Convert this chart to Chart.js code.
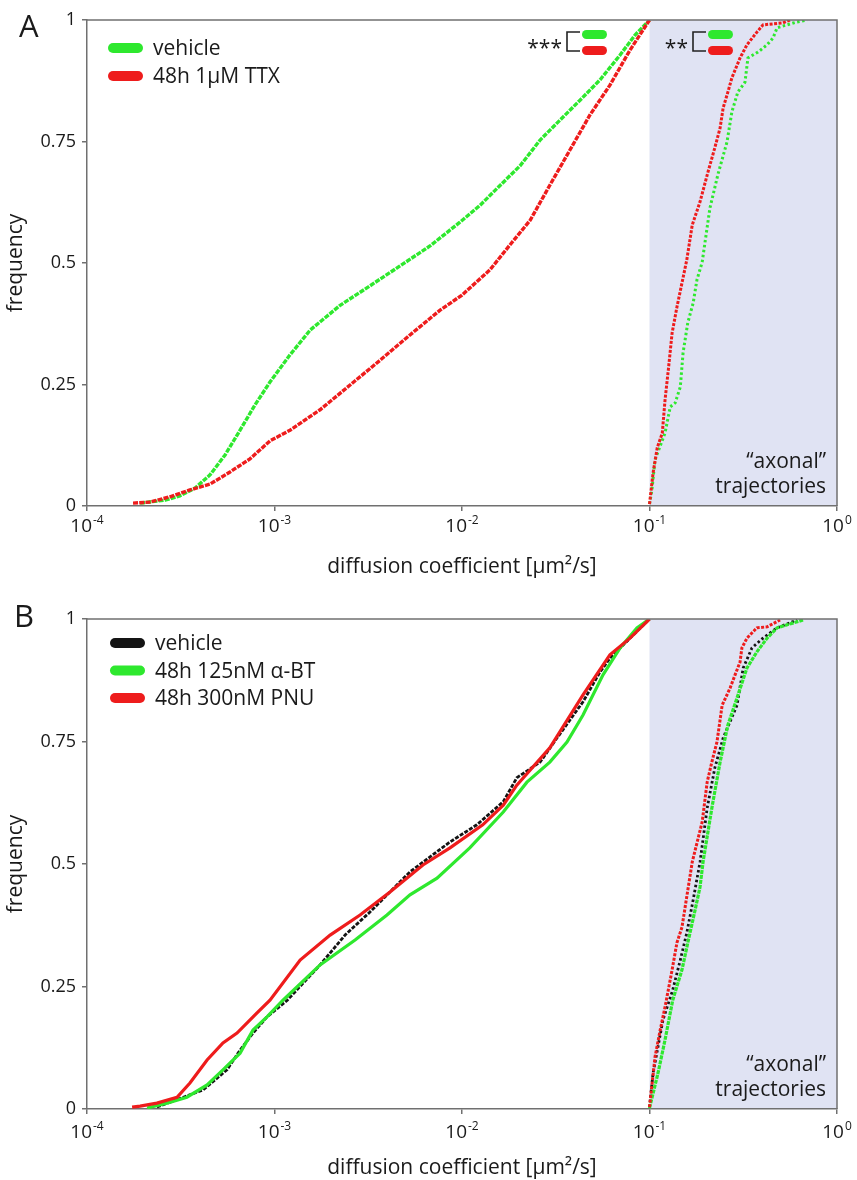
<!DOCTYPE html>
<html><head><meta charset="utf-8">
<script src="https://cdn.jsdelivr.net/npm/chart.js@4/dist/chart.umd.min.js"></script>
<style>
html,body{margin:0;padding:0;background:#fff}
body{width:857px;height:1180px;position:relative;overflow:hidden}
canvas{position:absolute;left:0}
#ca{top:0;width:857px;height:600px}
#cb{top:600px;width:857px;height:580px}
</style></head><body>
<canvas id="ca" width="857" height="600"></canvas>
<canvas id="cb" width="857" height="580"></canvas>
<script>
// ---------- axes / labels ----------
const xTickValues = [1e-4, 1e-3, 1e-2, 1e-1, 1];
const xTickExponents = ['-4', '-3', '-2', '-1', '0'];
const yTickValues = [0, 0.25, 0.5, 0.75, 1];
const yTickLabels = ['0', '0.25', '0.5', '0.75', '1'];
const axonalRange = [0.1, 1];
const xTitle = 'diffusion coefficient [μm²/s]';
const yTitle = 'frequency';
const legendA = ['vehicle', '48h 1μM TTX'];
const legendB = ['vehicle', '48h 125nM α-BT', '48h 300nM PNU'];

// ---------- panel A data (cumulative frequency vs diffusion coefficient) ----------
const A_vehSomaX = [1.92e-4,2.61e-4,3.13e-4,3.77e-4,4.53e-4,5.45e-4,6.55e-4,7.87e-4,9.46e-4,1.21e-3,1.55e-3,2.24e-3,3.23e-3,4.67e-3,6.75e-3,9.75e-3,1.25e-2,1.60e-2,2.04e-2,2.61e-2,3.33e-2,4.26e-2,5.45e-2,6.97e-2,8.37e-2,0.1];
const A_vehSomaY = [0.006,0.012,0.021,0.037,0.064,0.105,0.156,0.208,0.255,0.311,0.362,0.413,0.453,0.494,0.535,0.584,0.619,0.660,0.700,0.753,0.794,0.835,0.877,0.928,0.969,1.0];
const A_ttxSomaX = [1.76e-4,2.17e-4,2.77e-4,3.54e-4,4.53e-4,5.79e-4,7.40e-4,9.46e-4,1.21e-3,1.75e-3,2.53e-3,3.66e-3,5.28e-3,7.64e-3,1.0e-2,1.41e-2,1.80e-2,2.31e-2,2.94e-2,3.77e-2,4.82e-2,6.15e-2,7.87e-2,0.1];
const A_ttxSomaY = [0.006,0.008,0.019,0.033,0.045,0.070,0.097,0.134,0.156,0.198,0.249,0.300,0.352,0.403,0.434,0.486,0.537,0.588,0.660,0.733,0.805,0.866,0.938,1.0];
const A_vehAxonX = [0.1,0.103,0.107,0.121,0.129,0.137,0.146,0.151,0.160,0.171,0.179,0.191,0.210,0.232,0.259,0.275,0.296,0.323,0.335,0.379,0.424,0.456,0.479,0.612,0.692];
const A_vehAxonY = [0.004,0.033,0.095,0.150,0.204,0.212,0.245,0.315,0.377,0.418,0.465,0.502,0.613,0.683,0.749,0.811,0.852,0.872,0.922,0.934,0.949,0.963,0.984,0.996,1.0];
const A_ttxAxonX = [0.1,0.1045,0.110,0.117,0.121,0.126,0.132,0.140,0.158,0.169,0.186,0.205,0.223,0.238,0.247,0.262,0.275,0.304,0.331,0.374,0.403,0.515,0.561];
const A_ttxAxonY = [0.004,0.068,0.120,0.150,0.218,0.280,0.356,0.409,0.506,0.578,0.626,0.687,0.737,0.778,0.819,0.852,0.881,0.922,0.949,0.975,0.990,0.994,1.0];

// ---------- panel B data ----------
const B_vehSomaX = [2.36e-4,4.16e-4,5.58e-4,6.55e-4,7.68e-4,9.12e-4,1.17e-3,1.75e-3,2.38e-3,3.23e-3,5.28e-3,8.63e-3,1.20e-2,1.66e-2,1.96e-2,2.61e-2,3.21e-2,4.42e-2,5.45e-2,6.15e-2,8.17e-2,0.1];
const B_vehSomaY = [0.004,0.039,0.080,0.120,0.155,0.188,0.222,0.294,0.355,0.402,0.484,0.545,0.580,0.627,0.676,0.708,0.757,0.831,0.892,0.920,0.967,1.0];
const B_btSomaX = [2.09e-4,2.67e-4,3.41e-4,4.37e-4,5.31e-4,6.55e-4,7.68e-4,9.12e-4,1.11e-3,1.75e-3,2.69e-3,3.98e-3,5.28e-3,7.36e-3,1.10e-2,1.66e-2,2.22e-2,2.94e-2,3.63e-2,4.42e-2,5.65e-2,6.97e-2,8.57e-2,0.1];
const B_btSomaY = [0.002,0.012,0.024,0.049,0.080,0.114,0.161,0.188,0.222,0.294,0.345,0.396,0.437,0.471,0.533,0.606,0.667,0.708,0.749,0.804,0.886,0.941,0.982,1.0];
const B_pnuSomaX = [1.74e-4,1.92e-4,2.36e-4,3.02e-4,3.54e-4,4.37e-4,5.31e-4,6.31e-4,8.07e-4,9.46e-4,1.37e-3,1.98e-3,2.86e-3,4.13e-3,6.19e-3,8.63e-3,1.29e-2,1.66e-2,1.96e-2,2.94e-2,4.42e-2,6.15e-2,7.87e-2,0.1];
const B_pnuSomaY = [0.004,0.006,0.012,0.024,0.053,0.100,0.135,0.155,0.196,0.222,0.304,0.355,0.396,0.443,0.498,0.533,0.580,0.620,0.661,0.737,0.845,0.927,0.961,1.0];
const B_vehAxonX = [0.1,0.1045,0.118,0.133,0.146,0.158,0.171,0.186,0.203,0.223,0.247,0.293,0.316,0.352,0.403,0.479,0.612];
const B_vehAxonY = [0.004,0.073,0.182,0.243,0.304,0.359,0.427,0.504,0.614,0.696,0.757,0.824,0.900,0.941,0.961,0.982,0.998];
const B_btAxonX = [0.1,0.111,0.121,0.133,0.149,0.160,0.175,0.186,0.193,0.215,0.238,0.262,0.293,0.331,0.374,0.424,0.479,0.659];
const B_btAxonY = [0.002,0.073,0.141,0.222,0.284,0.339,0.406,0.453,0.504,0.614,0.708,0.784,0.839,0.900,0.933,0.961,0.982,0.998];
const B_pnuAxonX = [0.1,0.107,0.114,0.121,0.132,0.140,0.149,0.158,0.169,0.191,0.203,0.215,0.229,0.244,0.269,0.286,0.304,0.311,0.331,0.374,0.424,0.497];
const B_pnuAxonY = [0.004,0.106,0.161,0.208,0.284,0.339,0.371,0.433,0.504,0.586,0.667,0.708,0.749,0.824,0.859,0.886,0.912,0.941,0.961,0.982,0.984,0.998];

// ---------- styling ----------
const FONT = '"Open Sans", "Noto Sans", "DejaVu Sans", sans-serif';
const AXC = '#707070';
const TXT = '#1a1a1a';
const GREEN = '#2ee82e', RED = '#ee1c1c', BLACK = '#141414';
const SHADE = '#e0e3f3';

function xy(xs, ys) { return xs.map((x, i) => ({ x: x, y: ys[i] })); }

function rrect(ctx, x, y, w, h, r) {
  ctx.beginPath();
  ctx.moveTo(x + r, y);
  ctx.lineTo(x + w - r, y);
  ctx.arc(x + w - r, y + r, r, -Math.PI / 2, Math.PI / 2);
  ctx.lineTo(x + r, y + h);
  ctx.arc(x + r, y + r, r, Math.PI / 2, Math.PI * 1.5);
  ctx.closePath();
  ctx.fill();
}

const panelPlugin = {
  id: 'panel',
  beforeDraw(chart, args, o) {
    const ctx = chart.ctx, a = chart.chartArea, xs = chart.scales.x;
    const x0 = xs.getPixelForValue(axonalRange[0]), x1 = xs.getPixelForValue(axonalRange[1]);
    ctx.save();
    ctx.fillStyle = SHADE;
    ctx.fillRect(x0, a.top, x1 - x0, a.bottom - a.top);
    ctx.restore();
  },
  afterDraw(chart, args, o) {
    const ctx = chart.ctx, a = chart.chartArea, xs = chart.scales.x;
    ctx.save();
    // frame top/right
    ctx.strokeStyle = AXC; ctx.lineWidth = 1.5;
    ctx.beginPath();
    ctx.moveTo(a.left, a.top); ctx.lineTo(a.right, a.top); ctx.lineTo(a.right, a.bottom);
    ctx.stroke();
    // x tick labels with superscript exponents
    ctx.fillStyle = TXT; ctx.textBaseline = 'alphabetic'; ctx.textAlign = 'left';
    xTickValues.forEach((v, i) => {
      const px = xs.getPixelForValue(v);
      ctx.font = '19px ' + FONT; const w1 = ctx.measureText('10').width;
      ctx.font = '12px ' + FONT; const w2 = ctx.measureText(xTickExponents[i]).width;
      const sx = px - (w1 + w2 + 1) / 2;
      ctx.font = '19px ' + FONT; ctx.fillText('10', sx, a.bottom + o.tickBase);
      ctx.font = '12px ' + FONT; ctx.fillText(xTickExponents[i], sx + w1 + 1, a.bottom + o.tickBase - 8);
    });
    // x title
    ctx.font = '21px ' + FONT; ctx.textAlign = 'center';
    ctx.fillText(xTitle, (a.left + a.right) / 2, o.titleBase);
    // y title
    ctx.save();
    ctx.translate(16, (a.top + a.bottom) / 2); ctx.rotate(-Math.PI / 2);
    ctx.textBaseline = 'middle';
    ctx.fillText(yTitle, 0, 0);
    ctx.restore();
    // panel letter
    ctx.font = '31px ' + FONT; ctx.textAlign = 'left';
    ctx.fillText(o.letter, o.letterX, o.letterY);
    // legend
    o.legend.forEach((it, i) => {
      const cy = o.legY + i * o.legDy;
      ctx.fillStyle = it.color;
      rrect(ctx, o.legX, cy - 5, 35, 10, 5);
      ctx.fillStyle = TXT; ctx.font = '21px ' + FONT;
      ctx.fillText(it.label, o.legX + 45, cy + 7);
    });
    // axonal label
    ctx.font = '21px ' + FONT; ctx.textAlign = 'right'; ctx.fillStyle = TXT;
    ctx.fillText('\u201Caxonal\u201D', a.right - 11, a.bottom - 38);
    ctx.fillText('trajectories', a.right - 11, a.bottom - 13);
    // significance brackets
    if (o.sig) {
      o.sig.forEach(s => {
        ctx.font = '21px ' + FONT; ctx.textAlign = 'right'; ctx.fillStyle = TXT;
        ctx.fillText(s.stars, s.x - 5, 55);
        ctx.strokeStyle = '#222'; ctx.lineWidth = 1.6;
        ctx.beginPath();
        ctx.moveTo(s.x + 13, 32); ctx.lineTo(s.x, 32); ctx.lineTo(s.x, 51); ctx.lineTo(s.x + 13, 51);
        ctx.stroke();
        ctx.fillStyle = GREEN; rrect(ctx, s.x + 15, 30, 25, 9, 4.5);
        ctx.fillStyle = RED; rrect(ctx, s.x + 15, 46, 25, 9, 4.5);
      });
    }
    ctx.restore();
  }
};

function scalesCfg(xH) {
  return {
    x: {
      type: 'logarithmic', min: 1e-4, max: 1,
      afterBuildTicks: s => { s.ticks = xTickValues.map(v => ({ value: v })); },
      afterFit: s => { s.height = xH; },
      ticks: { display: true, callback: () => '', font: { size: 1 } },
      grid: { display: true, drawOnChartArea: false, drawTicks: true, tickLength: 5, color: AXC, lineWidth: 1.5 },
      border: { display: true, color: AXC, width: 1.5 }
    },
    y: {
      type: 'linear', min: 0, max: 1,
      afterBuildTicks: s => { s.ticks = yTickValues.map(v => ({ value: v })); },
      afterFit: s => { s.width = 87; },
      ticks: { color: TXT, padding: 6, font: { family: FONT, size: 18 },
        callback: v => yTickLabels[yTickValues.indexOf(v)] },
      grid: { display: true, drawOnChartArea: false, drawTicks: true, tickLength: 5, color: AXC, lineWidth: 1.5 },
      border: { display: true, color: AXC, width: 1.5 }
    }
  };
}

function ds(data, color, width, dash, order) {
  return { data: data, showLine: true, borderColor: color, backgroundColor: color, borderWidth: width,
    borderDash: dash, pointRadius: 0, fill: false, tension: 0, order: order, borderCapStyle: 'butt' };
}

Chart.defaults.font.family = FONT;

new Chart(document.getElementById('ca'), {
  type: 'scatter',
  data: { datasets: [
    ds(xy(A_vehSomaX, A_vehSomaY), GREEN, 3.4, [5, 1.2], 2),
    ds(xy(A_ttxSomaX, A_ttxSomaY), RED, 3.4, [5, 1.2], 1),
    ds(xy(A_vehAxonX, A_vehAxonY), GREEN, 3, [2.5, 2.5], 2),
    ds(xy(A_ttxAxonX, A_ttxAxonY), RED, 3, [3, 1.5], 1)
  ]},
  options: {
    responsive: false, devicePixelRatio: 1, animation: false, events: [],
    layout: { padding: { left: 0, right: 20, top: 20, bottom: 0 } },
    scales: scalesCfg(94),
    plugins: {
      legend: { display: false }, tooltip: { enabled: false },
      panel: { letter: 'A', letterX: 19, letterY: 37, tickBase: 26, titleBase: 573,
        legX: 108, legY: 48, legDy: 28,
        legend: [{ label: legendA[0], color: GREEN }, { label: legendA[1], color: RED }],
        sig: [{ stars: '***', x: 567 }, { stars: '**', x: 693 }] }
    }
  },
  plugins: [panelPlugin]
});

new Chart(document.getElementById('cb'), {
  type: 'scatter',
  data: { datasets: [
    ds(xy(B_vehSomaX, B_vehSomaY), BLACK, 2.8, [4, 1.5], 3),
    ds(xy(B_btSomaX, B_btSomaY), GREEN, 3.2, [], 2),
    ds(xy(B_pnuSomaX, B_pnuSomaY), RED, 3.2, [], 1),
    ds(xy(B_vehAxonX, B_vehAxonY), BLACK, 2.8, [2.5, 2.5], 3),
    ds(xy(B_btAxonX, B_btAxonY), GREEN, 3.2, [4, 1], 2),
    ds(xy(B_pnuAxonX, B_pnuAxonY), RED, 3, [3, 1.5], 1)
  ]},
  options: {
    responsive: false, devicePixelRatio: 1, animation: false, events: [],
    layout: { padding: { left: 0, right: 20, top: 19, bottom: 0 } },
    scales: scalesCfg(71),
    plugins: {
      legend: { display: false }, tooltip: { enabled: false },
      panel: { letter: 'B', letterX: 14, letterY: 27, tickBase: 29, titleBase: 574,
        legX: 110, legY: 43, legDy: 27.5,
        legend: [{ label: legendB[0], color: BLACK }, { label: legendB[1], color: GREEN }, { label: legendB[2], color: RED }],
        sig: null }
    }
  },
  plugins: [panelPlugin]
});
</script>
</body></html>
